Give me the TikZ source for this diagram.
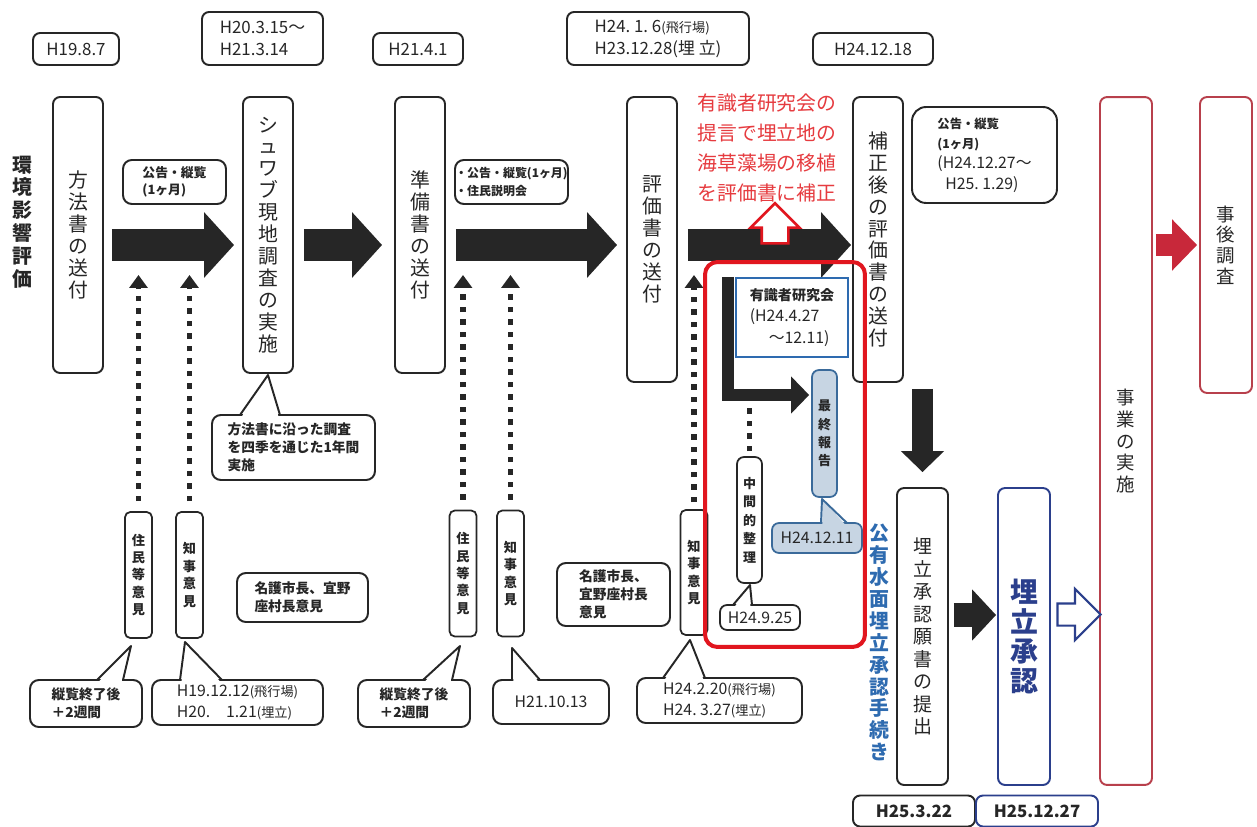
\documentclass[tikz,border=0pt]{standalone}
\usepackage{fontspec}
\setmainfont{Noto Sans CJK JP}
\usetikzlibrary{arrows.meta,shapes.arrows}

\definecolor{gris}{HTML}{262626}
\definecolor{rojo}{HTML}{E1161F}
\definecolor{rojotxt}{HTML}{E63B3F}
\definecolor{rojocaja}{HTML}{B8404C}
\definecolor{rojoflecha}{HTML}{C8283A}
\definecolor{azul}{HTML}{2E6BB0}
\definecolor{marino}{HTML}{2B3F8C}
\definecolor{celeste}{HTML}{C7D5E3}
\definecolor{azulborde}{HTML}{3A6A9A}

\tikzset{
	caja/.style={draw=gris, line width=1.1pt, rounded corners=4pt, inner sep=0pt, text=gris, align=center},
	tallbox/.style={caja, minimum width=1cm, minimum height=5.52cm, font=\fontsize{11.3}{12.5}\selectfont},
	smallbox/.style={caja, line width=1pt, rounded corners=3pt, minimum width=0.54cm, minimum height=2.52cm, font=\bfseries\fontsize{7.5}{9.9}\selectfont},
	datebox/.style={caja, font=\fontsize{9.6}{12.5}\selectfont},
	nota/.style={caja, rounded corners=5pt, align=left, font=\bfseries\fontsize{7.8}{10.2}\selectfont},
	bigarrow/.style={draw=gris, line width=0.64cm, -{Triangle[length=0.6cm,width=1.28cm]}},
	dotarrow/.style={draw=gris, line width=0.11cm, dash pattern=on 0.11cm off 0.14cm, -{Triangle[length=0.26cm,width=0.36cm]}},
	hueca/.style={single arrow, fill=white, minimum width=0pt},
}

% cola de un globo: relleno, borde, y de la base, x1, x2, punta x, punta y
\newcommand{\cola}[7]{%
	\fill[#1] (#4+1.5,#3+2) -- (#6,#7) -- (#5-1.5,#3+2) -- cycle;
	\draw[#2, line width=1.1pt, line join=round] (#4,#3) -- (#6,#7) -- (#5,#3);
}

\begin{document}
\begin{tikzpicture}[x=0.02cm, y=-0.02cm]
	\path[use as bounding box, fill=white] (0,0) rectangle (1257,827);
	%Fechas arriba
	\node[datebox, minimum width=1.72cm, minimum height=0.64cm] (f1) at (76,49) {H19.8.7};
	\node[datebox, minimum width=2.42cm, minimum height=1.06cm, align=left] (f2) at (262.5,38.5) {H20.3.15〜\\H21.3.14};
	\node[datebox, minimum width=1.8cm, minimum height=0.64cm] (f3) at (418,49) {H21.4.1};
	\node[datebox, minimum width=3.64cm, minimum height=1.06cm, align=left] (f4) at (658,38.5) {H24.\ 1.\ 6{\fontsize{7.5}{9}\selectfont(飛行場)}\\H23.12.28(埋\ 立)};
	\node[datebox, minimum width=2.4cm, minimum height=0.64cm] (f5) at (873,49) {H24.12.18};
	%Titulo izquierdo
	\node[font=\bfseries\fontsize{11.3}{13}\selectfont, text=gris, align=center] (eia) at (22,222) {環\\境\\影\\響\\評\\価};
	%Cajas principales
	\node[tallbox] (hoho) at (78,235) {方\\法\\書\\の\\送\\付};
	\node[tallbox] (schwab) at (268,235) {シ\\ュ\\ワ\\ブ\\現\\地\\調\\査\\の\\実\\施};
	\node[tallbox] (junbi) at (420,235) {準\\備\\書\\の\\送\\付};
	\node[tallbox, minimum height=5.7cm] (hyoka) at (652,239.5) {評\\価\\書\\の\\送\\付};
	\node[tallbox, minimum height=5.7cm] (hosei) at (878,239.5) {補\\正\\後\\の\\評\\価\\書\\の\\送\\付};
	%Cajas rojas
	\node[tallbox, draw=rojocaja, minimum width=1.04cm, minimum height=13.76cm, font=\fontsize{10.5}{12.3}\selectfont] (jigyo) at (1126,441) {事\\業\\の\\実\\施};
	\node[tallbox, draw=rojocaja, minimum width=1.04cm, minimum height=5.92cm, font=\fontsize{10.5}{11.8}\selectfont] (jigo) at (1226,245) {事\\後\\調\\査};
	%Cajas de abajo
	\node[tallbox, minimum width=1.02cm, minimum height=5.94cm, font=\fontsize{10.8}{12.8}\selectfont] (gansho) at (922.5,636.5) {埋\\立\\承\\認\\願\\書\\の\\提\\出};
	\node[tallbox, draw=marino, text=marino, minimum width=1.04cm, minimum height=5.94cm, font=\bfseries\fontsize{15.9}{17}\selectfont] (shonin) at (1024,636.5) {埋\\立\\承\\認};
	\node[datebox, minimum width=2.44cm, minimum height=0.62cm, font=\bfseries\fontsize{9.6}{12}\selectfont] (g1) at (914,811) {H25.3.22};
	\node[datebox, draw=marino, minimum width=2.44cm, minimum height=0.62cm, font=\bfseries\fontsize{9.6}{12}\selectfont] (g2) at (1037,811) {H25.12.27};
	\node[text=azul, font=\bfseries\fontsize{11.3}{12.5}\selectfont, align=center] (koyusui) at (879,642.5) {公\\有\\水\\面\\埋\\立\\承\\認\\手\\続\\き};
	%Opiniones
	\node[smallbox] (jumin1) at (138.5,575) {住\\民\\等\\意\\見};
	\node[smallbox] (chiji1) at (189.5,575) {知\\事\\意\\見};
	\node[smallbox] (jumin2) at (463,573.5) {住\\民\\等\\意\\見};
	\node[smallbox] (chiji2) at (510.5,573.5) {知\\事\\意\\見};
	\node[smallbox, minimum height=2.5cm] (chiji3) at (694,572.5) {知\\事\\意\\見};
	%Notas
	\node[nota, minimum width=2.06cm, minimum height=0.88cm, font=\bfseries\fontsize{7.3}{10}\selectfont] (kokoku1) at (174.5,182) {公告・縦覧\\(1ヶ月)};
	\node[nota, minimum width=2.26cm, minimum height=0.88cm, font=\bfseries\fontsize{6.8}{10}\selectfont] (kokoku2) at (511.5,182) {・公告・縦覧(1ヶ月)\\・住民説明会};
	\node[nota, minimum width=2.9cm, minimum height=1.92cm, rounded corners=8pt, font=\fontsize{9}{11.5}\selectfont] (kokoku3) at (984.5,155) {{\bfseries\fontsize{7}{9}\selectfont 公告・縦覧}\\{\bfseries\fontsize{7}{9}\selectfont(1ヶ月)}\\(H24.12.27〜\\\hspace*{0.5em}H25.\ 1.29)};
	\node[nota, minimum width=3.26cm, minimum height=1.3cm] (chosa) at (293.5,447.5) {方法書に沿った調査\\を四季を通じた1年間\\実施};
	\node[nota, minimum width=2.62cm, minimum height=0.98cm] (nago1) at (302.5,597.5) {名護市長、宜野\\座村長意見};
	\node[nota, minimum width=2.26cm, minimum height=1.26cm] (nago2) at (613.5,594.5) {名護市長、\\宜野座村長\\意見};
	\node[nota, minimum width=2.24cm, minimum height=0.94cm] (jukan1) at (86,703.5) {縦覧終了後\\＋2週間};
	\node[nota, minimum width=2.24cm, minimum height=0.94cm] (jukan2) at (414,703.5) {縦覧終了後\\＋2週間};
	\node[nota, minimum width=3.42cm, minimum height=0.9cm, font=\fontsize{9}{12.5}\selectfont] (iken1) at (237.5,702.5) {H19.12.12{\fontsize{7.5}{9}\selectfont(飛行場)}\\H20.　1.21{\fontsize{7.5}{9}\selectfont(埋立)}};
	\node[nota, minimum width=2.32cm, minimum height=0.88cm, font=\fontsize{9}{12.5}\selectfont] (iken2) at (551,702) {H21.10.13};
	\node[nota, minimum width=3.3cm, minimum height=0.9cm, font=\fontsize{9}{12.5}\selectfont] (iken3) at (719.5,700.5) {H24.2.20{\fontsize{7.5}{9}\selectfont(飛行場)}\\H24.\ 3.27{\fontsize{7.5}{9}\selectfont(埋立)}};
	\cola{white}{gris}{680}{97}{123}{131}{646}
	\cola{white}{gris}{680}{180}{222}{185}{642}
	\cola{white}{gris}{680}{423}{452}{460}{646}
	\cola{white}{gris}{680}{512}{540}{512}{648}
	\cola{white}{gris}{678}{663}{705}{690}{640}
	\cola{white}{gris}{415}{240}{280}{268}{375}
	%Flechas grandes
	\coordinate (eje) at (0,245);
	\draw[bigarrow, shorten <=0.16cm, shorten >=0.16cm] (hoho.east |- eje) -- (schwab.west |- eje);
	\draw[bigarrow, shorten <=0.2cm, shorten >=0.24cm] (schwab.east |- eje) -- (junbi.west |- eje);
	\draw[bigarrow, shorten <=0.2cm, shorten >=0.18cm] (junbi.east |- eje) -- (hyoka.west |- eje);
	\draw[bigarrow, shorten <=0.2cm, shorten >=0.02cm] (hyoka.east |- eje) -- (hosei.west |- eje);
	\draw[bigarrow, draw=rojoflecha, line width=0.44cm, -{Triangle[length=0.5cm,width=1cm]}, shorten <=0.06cm, shorten >=0.04cm] (jigyo.east |- eje) -- (jigo.west |- eje);
	\draw[bigarrow, line width=0.42cm, -{Triangle[length=0.42cm,width=0.84cm]}, shorten <=0.12cm, shorten >=0.3cm] (gansho.north |- hosei.south) -- (gansho.north);
	\coordinate (eje2) at (0,615);
	\draw[bigarrow, line width=0.48cm, -{Triangle[length=0.48cm,width=1cm]}, shorten <=0.1cm, shorten >=0.02cm] (gansho.east |- eje2) -- (shonin.west |- eje2);
	\node[hueca, draw=marino, line width=1.2pt, inner sep=0.2cm, minimum height=0.86cm, single arrow head extend=0.29cm] (abierta) at (1073.5,614.5) {};
	%Flechas punteadas
	\coordinate (puntas) at (0,275);
	\draw[dotarrow, shorten <=0.2cm] (jumin1.north) -- (jumin1.north |- puntas);
	\draw[dotarrow, shorten <=0.2cm] (chiji1.north) -- (chiji1.north |- puntas);
	\draw[dotarrow, shorten <=0.2cm] (jumin2.north) -- (jumin2.north |- puntas);
	\draw[dotarrow, shorten <=0.2cm] (chiji2.north) -- (chiji2.north |- puntas);
	\draw[dotarrow, shorten <=0.14cm] (chiji3.north) -- (chiji3.north |- puntas);
	%Texto rojo
	\node[text=rojotxt, font=\fontsize{11.3}{17}\selectfont, align=center] (teigen) at (767,148) {有識者研究会の\\提言で埋立地の\\海草藻場の移植\\を評価書に補正};
	\node[hueca, draw=rojo, line width=1.5pt, rotate=90, inner sep=0.24cm, minimum height=0.8cm, single arrow head extend=0.22cm] (arriba) at (775,230) {};
	%Recuadro rojo
	\node[draw=azul, line width=1.5pt, inner sep=0pt, minimum width=2.24cm, minimum height=1.58cm, align=left, text=gris, font=\fontsize{9}{12}\selectfont] (kenkyu) at (792,317.5) {{\bfseries\fontsize{8}{9}\selectfont 有識者研究会}\\(H24.4.27\\\hspace*{1.2em}〜12.11)};
	\node[caja, fill=celeste, draw=azulborde, line width=1pt, minimum width=0.5cm, minimum height=2.54cm, font=\bfseries\fontsize{7.4}{10.5}\selectfont] (saishu) at (824.5,433.5) {最\\終\\報\\告};
	\node[caja, line width=1pt, minimum width=0.5cm, minimum height=2.52cm, font=\bfseries\fontsize{7.4}{10.5}\selectfont] (chukan) at (749.5,520) {中\\間\\的\\整\\理};
	\node[caja, fill=celeste, draw=azulborde, line width=1pt, minimum width=1.8cm, minimum height=0.6cm, font=\fontsize{9}{11}\selectfont] (f1211) at (817,538) {H24.12.11};
	\node[caja, line width=1pt, minimum width=1.6cm, minimum height=0.5cm, font=\fontsize{9}{11}\selectfont] (f925) at (760,617.5) {H24.9.25};
	\cola{celeste}{azulborde}{523}{821}{847}{822}{499}
	\cola{white}{gris}{605}{733}{752}{750}{585}
	\coordinate (Linicio) at (728,277);
	\coordinate (Lcodo) at (728,395);
	\draw[bigarrow, line width=0.24cm, line join=miter, -{Triangle[length=0.36cm,width=0.72cm]}, shorten >=0.04cm] (Linicio) -- (Lcodo) -- (saishu.west |- Lcodo);
	\draw[dotarrow, -, shorten <=0.1cm, shorten >=0.18cm] (chukan.north) -- (chukan.north |- Lcodo);
	\node[draw=rojo, line width=0.08cm, rounded corners=7pt, minimum width=3.2cm, minimum height=7.7cm] (marco) at (785,454.5) {};
\end{tikzpicture}
\end{document}
